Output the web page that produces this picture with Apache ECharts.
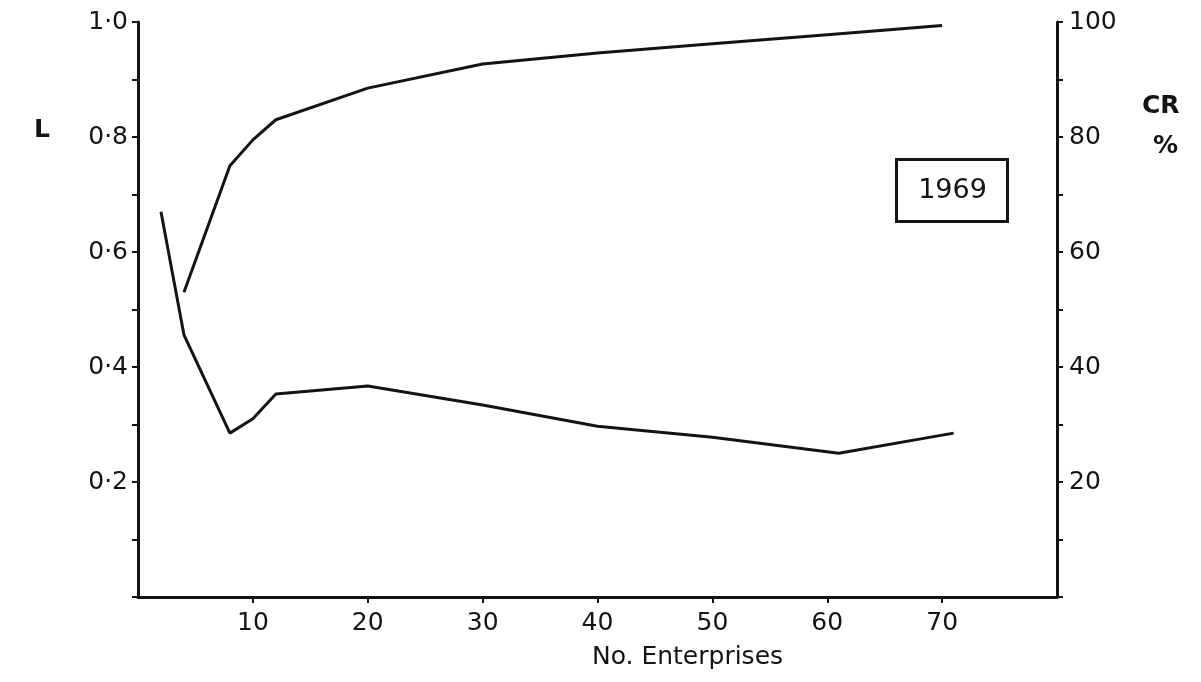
<!DOCTYPE html>
<html>
<head>
<meta charset="utf-8">
<script src="https://cdn.jsdelivr.net/npm/echarts@6/dist/echarts.min.js"></script>
<style>
  html, body { margin: 0; padding: 0; background: #fff; }
  #chart { width: 1201px; height: 682px; }
</style>
</head>
<body>
<div id="chart"></div>
<script>
// L (left axis) vs number of enterprises
const lPoints = [
  [2, 0.67], [4, 0.456], [8, 0.285], [10, 0.31], [12, 0.353], [20, 0.367],
  [30, 0.334], [40, 0.297], [50, 0.278], [61, 0.25], [71, 0.285]
];
// CR % (right axis) vs number of enterprises
const crPoints = [
  [4, 53], [8, 75], [10, 79.5], [12, 83], [20, 88.5], [30, 92.7],
  [40, 94.6], [50, 96.2], [60, 97.8], [70, 99.4]
];
const yearLabel = '1969';

const ink = '#141414';
const font = 'DejaVu Sans';
const labelSize = 25;

/** 通用坐标轴样式 */
function axisBase() {
  return {
    axisLine: { show: true, lineStyle: { color: ink, width: 3 } },
    axisTick: { show: true, inside: false, length: 6, lineStyle: { color: ink, width: 2 } },
    splitLine: { show: false }
  };
}

const chart = echarts.init(document.getElementById('chart'));

const option = {
  backgroundColor: '#fff',
  animation: false,
  grid: { left: 138, right: 144, top: 22, bottom: 85, outerBoundsMode: 'none', containLabel: false },
  xAxis: {
    type: 'value',
    min: 0,
    max: 80,
    interval: 10,
    ...axisBase(),
    axisLabel: {
      color: ink, fontSize: labelSize, fontFamily: font, margin: 14,
      showMinLabel: false, showMaxLabel: false
    },
    name: 'No. Enterprises',
    nameLocation: 'middle',
    nameGap: 48,
    nameTextStyle: { color: ink, fontSize: labelSize, fontFamily: font, padding: [0, 0, 0, 180] }
  },
  yAxis: [
    {
      type: 'value',
      position: 'left',
      min: 0,
      max: 1,
      interval: 0.2,
      ...axisBase(),
      minorTick: { show: true, splitNumber: 2, length: 6, lineStyle: { color: ink, width: 2 } },
      axisLabel: {
        color: ink, fontSize: labelSize, fontFamily: font, margin: 10,
        showMinLabel: false,
        formatter: v => v.toFixed(1).replace('.', '·')
      }
    },
    {
      type: 'value',
      position: 'right',
      min: 0,
      max: 100,
      interval: 20,
      ...axisBase(),
      minorTick: { show: true, splitNumber: 2, length: 6, lineStyle: { color: ink, width: 2 } },
      axisLabel: {
        color: ink, fontSize: labelSize, fontFamily: font, margin: 12,
        showMinLabel: false
      }
    }
  ],
  graphic: [
    { type: 'text', left: 34, top: 118, style: { text: 'L', fill: ink, fontSize: labelSize, fontFamily: font, fontWeight: 'bold' } },
    { type: 'text', left: 1142, top: 94, style: { text: 'CR', fill: ink, fontSize: labelSize, fontFamily: font, fontWeight: 'bold' } },
    { type: 'text', left: 1153, top: 134, style: { text: '%', fill: ink, fontSize: labelSize, fontFamily: font, fontWeight: 'bold' } },
    {
      type: 'group', left: 895, top: 158,
      children: [
        { type: 'rect', shape: { x: 0, y: 0, width: 111, height: 62 }, style: { fill: '#fff', stroke: ink, lineWidth: 3 } },
        { type: 'text', x: 56, y: 31, style: { text: yearLabel, fill: ink, fontSize: 27, fontFamily: font, align: 'center', verticalAlign: 'middle' } }
      ]
    }
  ],
  series: [
    {
      name: 'L',
      type: 'line',
      yAxisIndex: 0,
      data: lPoints,
      symbol: 'none',
      lineStyle: { color: ink, width: 3 }
    },
    {
      name: 'CR',
      type: 'line',
      yAxisIndex: 1,
      data: crPoints,
      symbol: 'none',
      lineStyle: { color: ink, width: 3 }
    }
  ]
};

chart.setOption(option);
</script>
</body>
</html>
